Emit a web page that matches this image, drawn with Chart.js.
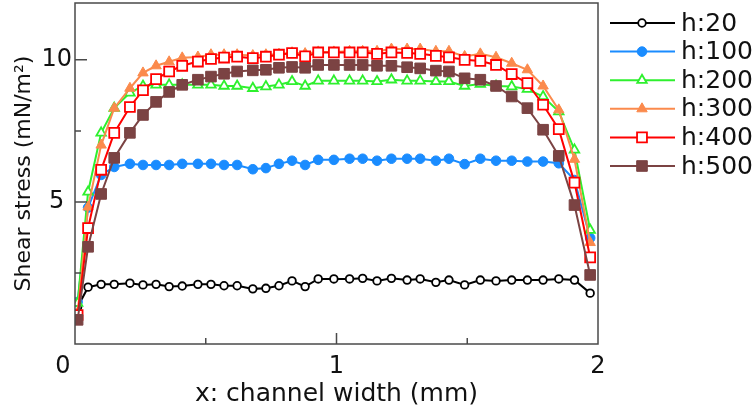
<!DOCTYPE html>
<html lang="en">
<head>
<meta charset="UTF-8" />
<title>Shear stress vs channel width</title>
<style>
  html, body { margin: 0; padding: 0; background: #fff; }
  #wrap { width: 756px; height: 411px; }
</style>
</head>
<body>
<div id="wrap"><canvas id="chart" width="756" height="411"></canvas></div>

<script src="https://cdn.jsdelivr.net/npm/chart.js"></script>
<script>
  // positions across the channel (mm)
  const xPos = [0.01, 0.05, 0.10, 0.15, 0.21, 0.26, 0.31, 0.36, 0.41, 0.47,
                0.52, 0.57, 0.62, 0.68, 0.73, 0.78, 0.83, 0.88, 0.93, 0.99,
                1.05, 1.10, 1.155, 1.21, 1.27, 1.32, 1.38, 1.43, 1.49, 1.55,
                1.61, 1.67, 1.73, 1.79, 1.85, 1.91, 1.97];

  // shear stress (mN/m^2) for each h
  const h20 = [1.3, 2.0, 2.1, 2.1, 2.14, 2.08, 2.1, 2.02, 2.04, 2.1,
               2.1, 2.05, 2.05, 1.94, 1.96, 2.05, 2.22, 2.02, 2.29, 2.29,
               2.29, 2.31, 2.22, 2.31, 2.25, 2.29, 2.17, 2.25, 2.08, 2.25,
               2.22, 2.25, 2.25, 2.25, 2.29, 2.25, 1.79];
  const h100 = [1.48, 4.8, 5.95, 6.23, 6.34, 6.3, 6.3, 6.3, 6.34, 6.34,
                6.34, 6.3, 6.3, 6.15, 6.19, 6.34, 6.45, 6.3, 6.48, 6.48,
                6.52, 6.52, 6.45, 6.52, 6.52, 6.52, 6.45, 6.52, 6.33, 6.52,
                6.45, 6.45, 6.42, 6.42, 6.36, 5.77, 3.73];
  const h200 = [1.44, 5.35, 7.43, 8.3, 8.84, 9.08, 9.12, 9.12, 9.12, 9.12,
                9.12, 9.08, 9.08, 9.0, 9.06, 9.12, 9.24, 9.08, 9.26, 9.26,
                9.26, 9.26, 9.24, 9.3, 9.26, 9.26, 9.24, 9.24, 9.08, 9.15,
                9.08, 9.06, 8.97, 8.71, 8.18, 6.83, 4.01];
  const h300 = [1.1, 4.82, 7.0, 8.3, 9.0, 9.54, 9.79, 9.93, 10.07, 10.1,
                10.18, 10.18, 10.18, 10.15, 10.18, 10.2, 10.25, 10.22, 10.28, 10.28,
                10.3, 10.3, 10.3, 10.38, 10.38, 10.38, 10.3, 10.3, 10.12, 10.21,
                10.09, 9.88, 9.65, 9.08, 8.24, 6.5, 3.57];
  const h400 = [1.02, 4.08, 6.13, 7.43, 8.34, 8.93, 9.32, 9.59, 9.79, 9.94,
                10.03, 10.08, 10.11, 10.06, 10.11, 10.18, 10.24, 10.12, 10.26, 10.26,
                10.26, 10.26, 10.21, 10.26, 10.24, 10.21, 10.14, 10.09, 10.0, 9.96,
                9.82, 9.5, 9.18, 8.42, 7.56, 5.68, 3.05];
  const h500 = [0.85, 3.42, 5.28, 6.55, 7.43, 8.06, 8.52, 8.87, 9.12, 9.3,
                9.41, 9.51, 9.59, 9.63, 9.65, 9.72, 9.75, 9.72, 9.82, 9.82,
                9.82, 9.82, 9.79, 9.79, 9.74, 9.7, 9.62, 9.59, 9.35, 9.3,
                9.08, 8.71, 8.3, 7.54, 6.62, 4.89, 2.43];

  const seriesNames = ['h:20', 'h:100', 'h:200', 'h:300', 'h:400', 'h:500'];
  const seriesValues = [h20, h100, h200, h300, h400, h500];
  const yTickLabels = [5, 10];
  const xTickLabels = [0, 1, 2];

  const FONT = 'DejaVu Sans';

  const looks = [
    { color: '#000000', style: 'circle',   radius: 3.8, fill: '#ffffff' },
    { color: '#1a8cff', style: 'circle',   radius: 4.8, fill: null },
    { color: '#2ef02e', style: 'triangle', radius: 5.5, fill: '#ffffff' },
    { color: '#fb8a4c', style: 'triangle', radius: 6,   fill: null },
    { color: '#ff0000', style: 'rect',     radius: 7,   fill: '#ffffff' },
    { color: '#7b4343', style: 'rect',     radius: 7.5, fill: null }
  ];

  const datasets = seriesNames.map((name, i) => ({
    label: name,
    data: seriesValues[i].map((v, j) => ({ x: xPos[j], y: v })),
    borderColor: looks[i].color,
    backgroundColor: looks[i].fill || looks[i].color,
    borderWidth: 2,
    pointStyle: looks[i].style,
    pointRadius: looks[i].radius,
    pointBorderWidth: looks[i].fill ? 1.8 : 1,
    pointBorderColor: looks[i].color,
    pointBackgroundColor: looks[i].fill || looks[i].color,
    tension: 0,
    order: seriesNames.length - i
  }));

  // frame, inward tick marks and the legend
  const decorations = {
    id: 'decorations',
    afterDraw(chart) {
      const { ctx, chartArea: a, scales: { x, y } } = chart;
      ctx.save();
      ctx.strokeStyle = '#4a4a4a';
      ctx.lineWidth = 1.5;
      ctx.strokeRect(a.left, a.top, a.right - a.left, a.bottom - a.top);

      ctx.beginPath();
      [0.5, 1, 1.5].forEach(v => {
        const px = x.getPixelForValue(v);
        const len = Number.isInteger(v) ? 11 : 6;
        ctx.moveTo(px, a.bottom);
        ctx.lineTo(px, a.bottom - len);
      });
      [2.5, 5, 7.5, 10].forEach(v => {
        const py = y.getPixelForValue(v);
        const len = yTickLabels.includes(v) ? 12 : 6;
        ctx.moveTo(a.left, py);
        ctx.lineTo(a.left + len, py);
      });
      ctx.stroke();

      // legend
      chart.data.datasets.forEach((ds, i) => {
        const ly = 23 + i * 28.6;
        ctx.strokeStyle = ds.borderColor;
        ctx.lineWidth = 2;
        ctx.beginPath();
        ctx.moveTo(610, ly);
        ctx.lineTo(675, ly);
        ctx.stroke();
        ctx.fillStyle = ds.pointBackgroundColor;
        ctx.strokeStyle = ds.pointBorderColor;
        ctx.lineWidth = ds.pointBorderWidth;
        Chart.helpers.drawPoint(ctx, {
          pointStyle: ds.pointStyle,
          radius: ds.pointRadius,
          borderWidth: ds.pointBorderWidth,
          rotation: 0
        }, 642, ly);
        ctx.fillStyle = '#111';
        ctx.font = '25px "' + FONT + '"';
        ctx.textBaseline = 'middle';
        ctx.textAlign = 'left';
        ctx.fillText(ds.label, 681, ly + 1);
      });
      ctx.restore();
    }
  };

  new Chart(document.getElementById('chart'), {
    type: 'line',
    data: { datasets },
    options: {
      responsive: false,
      animation: false,
      events: [],
      layout: { autoPadding: false, padding: { top: 3, right: 158, left: 0, bottom: 0 } },
      plugins: { legend: { display: false }, tooltip: { enabled: false } },
      scales: {
        x: {
          type: 'linear',
          min: 0,
          max: 2,
          afterFit(scale) {
            scale.height = 67;
            scale.paddingLeft = 0;
            scale.paddingRight = 0;
          },
          grid: { display: false, drawTicks: false },
          border: { display: false },
          ticks: {
            stepSize: 0.5,
            autoSkip: false,
            maxRotation: 0,
            padding: 8,
            color: '#111',
            font: { family: FONT, size: 24 },
            callback: v => xTickLabels.includes(v) ? (v === 0 ? '0\u2003' : String(v)) : ''
          },
          title: {
            display: true,
            text: 'x: channel width (mm)',
            color: '#111',
            font: { family: FONT, size: 25 },
            padding: { top: 2, bottom: 2 }
          }
        },
        y: {
          min: 0,
          max: 12,
          afterFit(scale) {
            scale.width = 75;
            scale.paddingTop = 0;
            scale.paddingBottom = 0;
          },
          grid: { display: false, drawTicks: false },
          border: { display: false },
          ticks: {
            stepSize: 2.5,
            autoSkip: false,
            padding: 3,
            crossAlign: 'center',
            color: '#111',
            font: { family: FONT, size: 24 },
            callback: v => yTickLabels.includes(v) ? String(v) : ''
          },
          title: {
            display: true,
            text: 'Shear stress (mN/m\u00B2)',
            color: '#111',
            font: { family: FONT, size: 22 },
            padding: { top: 11, bottom: 11 }
          }
        }
      }
    },
    plugins: [decorations]
  });
</script>
</body>
</html>
